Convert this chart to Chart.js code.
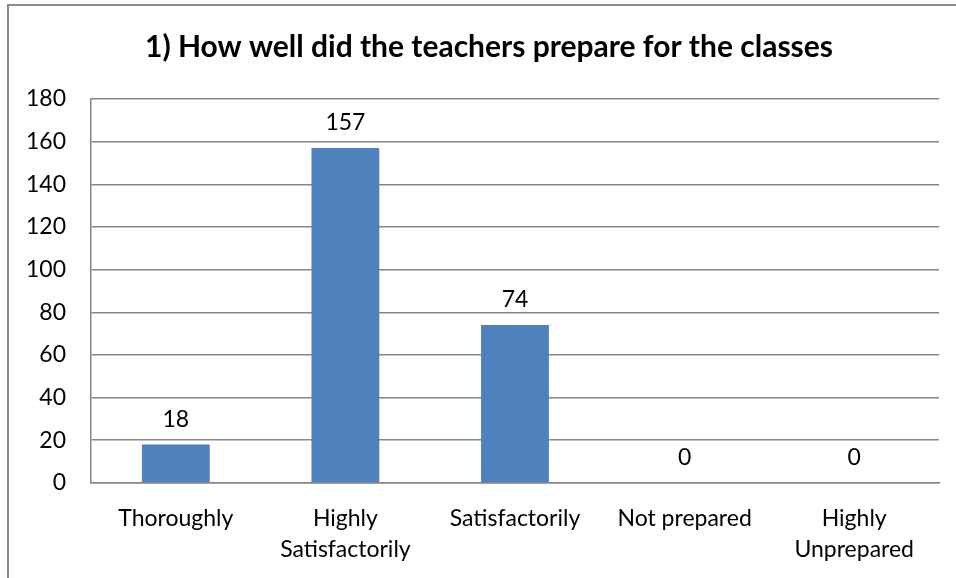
<!DOCTYPE html>
<html>
<head>
<meta charset="utf-8">
<script src="https://cdn.jsdelivr.net/npm/chart.js@4.4.0/dist/chart.umd.min.js"></script>
<style>
  html, body { margin: 0; padding: 0; background: #fff; overflow: hidden; }
  .frame {
    position: absolute; left: 7px; top: 4px;
    width: 962px; height: 620px;
    border-left: 2px solid #8a8a8a; border-top: 2px solid #8a8a8a;
  }
  canvas { display: block; }
</style>
</head>
<body>
<div class="frame"><canvas id="chart" width="960" height="592"></canvas></div>
<script>
// data
const categories = ['Thoroughly', ['Highly', 'Satisfactorily'], 'Satisfactorily', 'Not prepared', ['Highly', 'Unprepared']];
const responses = [18, 157, 74, 0, 0];
const yTicks = [0, 20, 40, 60, 80, 100, 120, 140, 160, 180];
const chartTitle = '1) How well did the teachers prepare for the classes';

const FONT = 'Lato, "Liberation Sans", sans-serif';

// draws the value above each bar
const valueLabels = {
    id: 'valueLabels',
    afterDatasetsDraw(chart) {
        const ctx = chart.ctx;
        const meta = chart.getDatasetMeta(0);
        ctx.save();
        ctx.font = '23px ' + FONT;
        ctx.fillStyle = '#000';
        ctx.textAlign = 'center';
        ctx.textBaseline = 'middle';
        meta.data.forEach((bar, i) => {
            ctx.fillText(String(responses[i]), bar.x, bar.y - 25);
        });
        ctx.restore();
    }
};

const ctx = document.getElementById('chart').getContext('2d');
new Chart(ctx, {
    type: 'bar',
    data: {
        labels: categories,
        datasets: [{
            data: responses,
            backgroundColor: '#4F81BD',
            borderWidth: 0,
            barPercentage: 0.4,
            categoryPercentage: 1.0,
        }],
    },
    options: {
        responsive: false,
        animation: false,
        layout: { padding: { left: 0, right: 0, top: 0, bottom: 13 } },
        plugins: {
            legend: { display: false },
            tooltip: { enabled: false },
            title: {
                display: true,
                text: chartTitle,
                color: '#000',
                font: { family: FONT, size: 30, weight: 'bold' },
                padding: { top: 23, bottom: 34 },
            },
        },
        scales: {
            x: {
                grid: { display: false, drawTicks: false },
                border: { display: true, color: '#868686', width: 1.5 },
                ticks: {
                    color: '#000',
                    font: { family: FONT, size: 23, lineHeight: 1.35 },
                    padding: 20,
                    maxRotation: 0,
                    autoSkip: false,
                },
            },
            y: {
                min: 0,
                max: 180,
                afterBuildTicks(scale) {
                    scale.ticks = yTicks.map(v => ({ value: v }));
                },
                afterFit(scale) { scale.width = 82; },
                grid: { color: '#868686', lineWidth: 1.5, drawTicks: false },
                border: { display: true, color: '#868686', width: 1.5 },
                ticks: {
                    color: '#000',
                    font: { family: FONT, size: 23 },
                    padding: 25,
                },
            },
            // empty right-hand spacer so the plot stops short of the frame edge
            spacer: {
                type: 'linear',
                position: 'right',
                display: true,
                afterFit(scale) { scale.width = 30; },
                grid: { display: false },
                border: { display: false },
                ticks: { display: false },
            },
        },
    },
    plugins: [valueLabels],
});
</script>
</body>
</html>
